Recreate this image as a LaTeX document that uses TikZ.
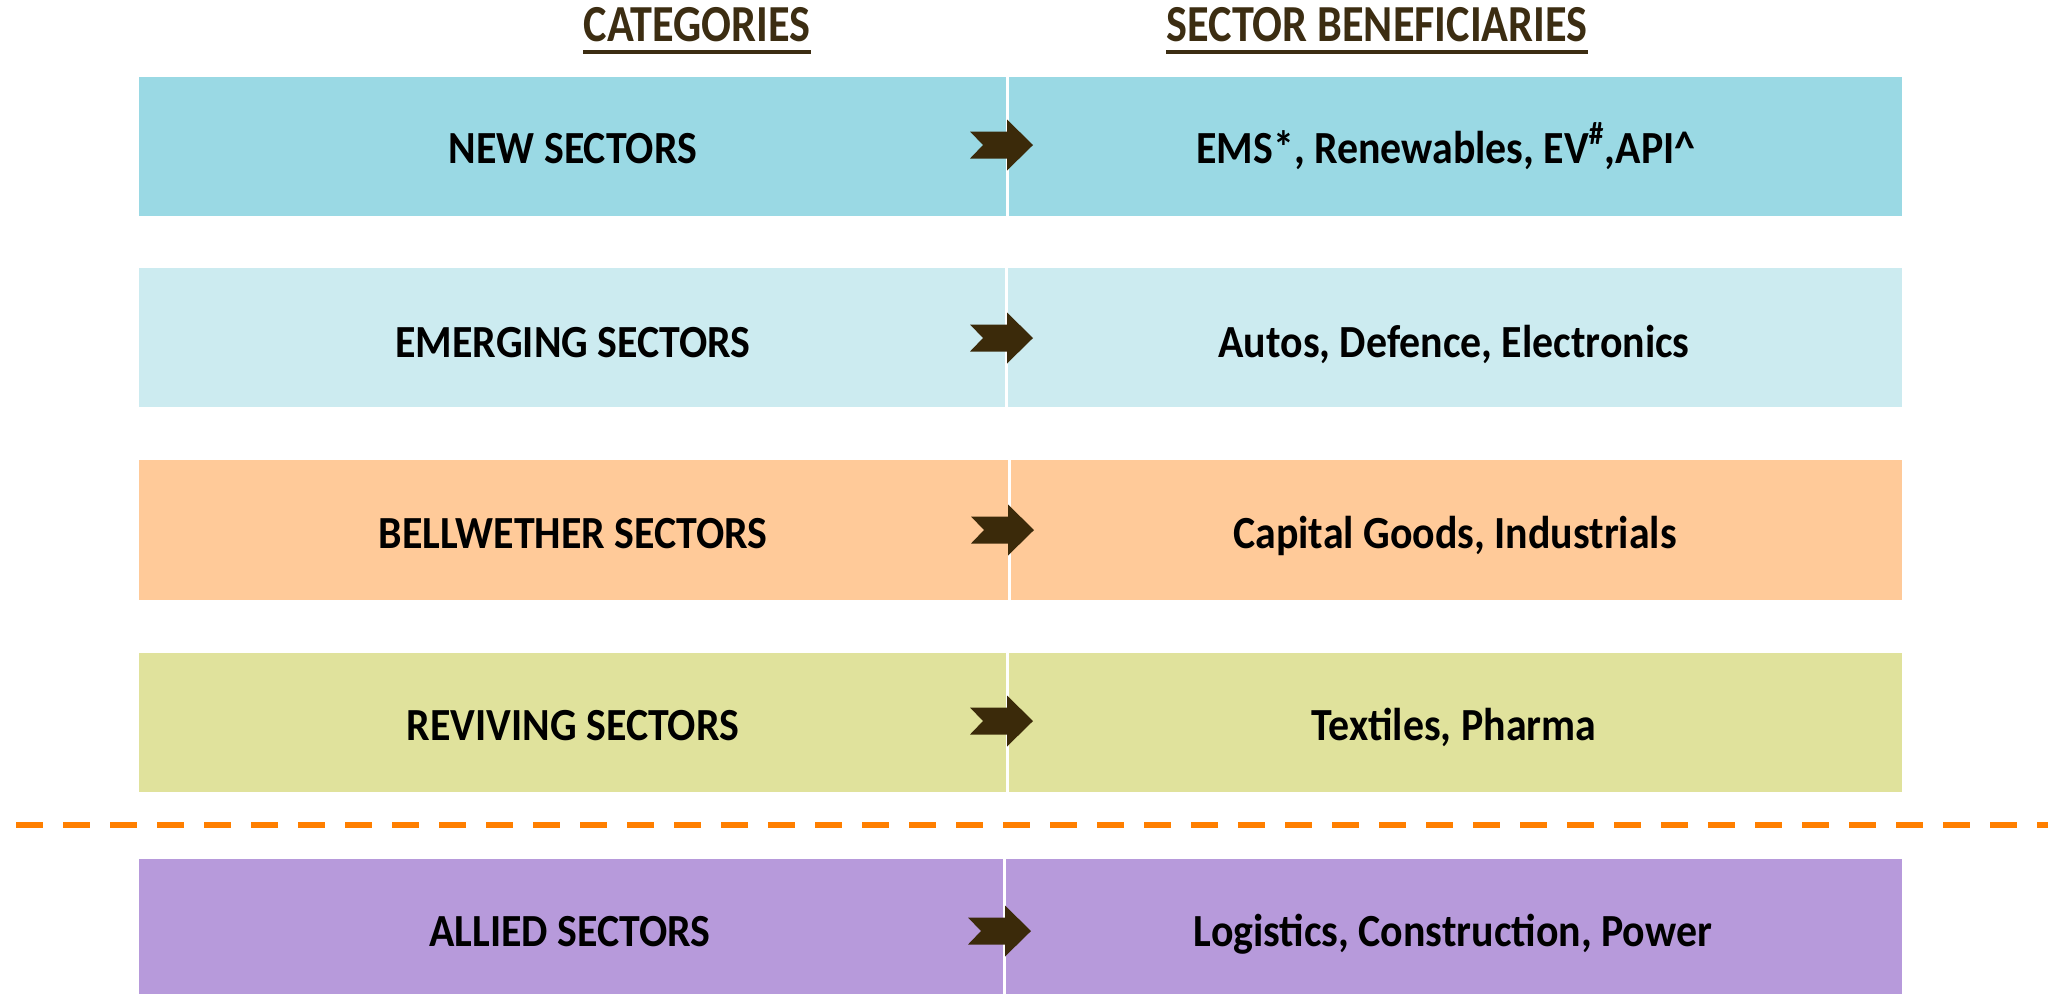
\documentclass[tikz,border=0pt]{standalone}
\usepackage{fontspec}
\setmainfont{Carlito}
\newfontfamily\rowfont{Carlito}[FakeStretch=0.91]
\newfontfamily\hdrfont{Carlito}[FakeStretch=0.85]
\usetikzlibrary{calc}
\definecolor{rowA}{HTML}{9AD9E4}
\definecolor{rowB}{HTML}{CCEBF0}
\definecolor{rowC}{HTML}{FFCA99}
\definecolor{rowD}{HTML}{E0E29C}
\definecolor{rowE}{HTML}{B79ADB}
\definecolor{arrowc}{HTML}{3B2A0A}
\definecolor{hdrc}{HTML}{3C2D12}
\definecolor{dashc}{HTML}{FF7F00}
\tikzset{
  rowtext/.style={font=\rowfont\bfseries\fontsize{23}{27}\selectfont, text=black, inner sep=0pt, anchor=base},
  hdrtext/.style={font=\hdrfont\bfseries\fontsize{26}{30}\selectfont, text=hdrc, inner sep=0pt, anchor=base},
  hdrline/.style={draw=hdrc, line width=1.75pt},
  divider/.style={draw=white, line width=1.5pt},
  fatarrow/.pic={\fill[arrowc] (-63,-13.5) -- (-26,-13.5) -- (-26,-25.5) -- (0,0) -- (-26,25.5) -- (-26,13.5) -- (-63,13.5) -- (-50,0) -- cycle;}
}
\begin{document}
\begin{tikzpicture}[x=0.5pt,y=-0.5pt]
\useasboundingbox (0,0) rectangle (2048,993);
% headers
\node[hdrtext] (hcat) at (697,41) {CATEGORIES};
\node[hdrtext] (hben) at (1377,41) {SECTOR BENEFICIARIES};
\draw[hdrline] ($(hcat.base west)+(0,11)$) -- ($(hcat.base east)+(0,11)$);
\draw[hdrline] ($(hben.base west)+(0,11)$) -- ($(hben.base east)+(0,11)$);
% rows
\fill[rowA] (139,77) rectangle (1902,216);
\fill[rowB] (139,268) rectangle (1902,407);
\fill[rowC] (139,460) rectangle (1902,600);
\fill[rowD] (139,653) rectangle (1902,792);
\fill[rowE] (139,859) rectangle (1902,1000);
\draw[divider] (1007,77) -- (1007,216);
\draw[divider] (1006,268) -- (1006,407);
\draw[divider] (1009,460) -- (1009,600);
\draw[divider] (1007,653) -- (1007,792);
\draw[divider] (1004,859) -- (1004,1000);
% texts
\node[rowtext] (l1) at (573,163) {NEW SECTORS};
\node[rowtext] (r1) at (1446,163) {EMS*, Renewables, EV\textsuperscript{\#},API\textasciicircum};
\node[rowtext] (l2) at (573,357) {EMERGING SECTORS};
\node[rowtext] (r2) at (1454,357) {Autos, Defence, Electronics};
\node[rowtext] (l3) at (573,548) {BELLWETHER SECTORS};
\node[rowtext] (r3) at (1455,548) {Capital Goods, Industrials};
\node[rowtext] (l4) at (573,740) {REVIVING SECTORS};
\node[rowtext] (r4) at (1454,740) {Textiles, Pharma};
\node[rowtext] (l5) at (570,946) {ALLIED SECTORS};
\node[rowtext] (r5) at (1453,946) {Logistics, Construction, Power};
% arrows
\pic at (1033,145) {fatarrow};
\pic at (1033,338) {fatarrow};
\pic at (1034,530) {fatarrow};
\pic at (1033,721) {fatarrow};
\pic at (1031,931) {fatarrow};
% dashed separator
\draw[dashc, line width=3.4pt, dash pattern=on 13.5pt off 10pt] (16,825) -- (2048,825);
\end{tikzpicture}
\end{document}
